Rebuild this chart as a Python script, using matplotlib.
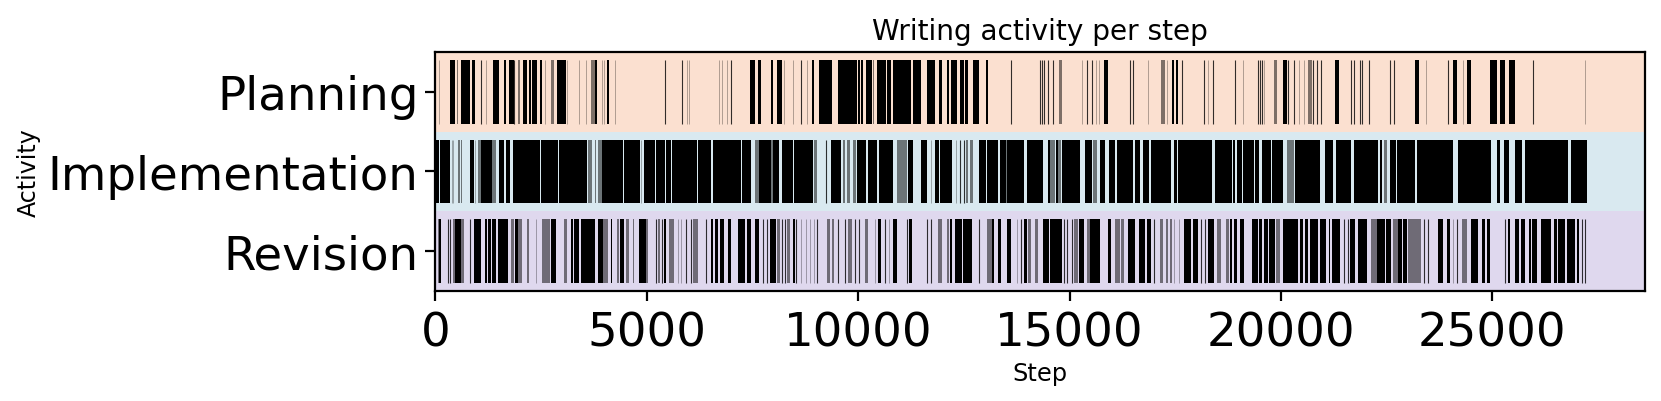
import matplotlib
matplotlib.use("Agg")
import matplotlib.pyplot as plt

activities = ["Planning", "Implementation", "Revision"]
band_colors = ["#fbe0d0", "#d9e9f0", "#dfd8ee"]

# bursts of steps that read as solid black, (first step, last step)
planning_runs = [(339, 473), (607, 828), (859, 930), (1372, 1506), (1632, 1671), (1750, 1853), (2073, 2160),
                 (2223, 2263), (2294, 2405), (2468, 2523), (2870, 3091), (3784, 3832), (4060, 4100), (7450, 7561),
                 (7640, 7695), (7931, 7979), (8089, 8199), (8917, 8956), (9083, 9374), (9532, 9981), (10005, 10044),
                 (10068, 10123), (10178, 10320), (10438, 10651), (10691, 10770), (10833, 11250), (11290, 11487),
                 (11621, 11818), (11920, 11976), (12102, 12149), (12197, 12346), (12417, 12504), (12536, 12607),
                 (12709, 12859), (13016, 13064), (15815, 15902), (17416, 17471), (17518, 17566), (20057, 20136),
                 (21287, 21381), (23179, 23266), (24077, 24172), (24409, 24488), (24945, 25111), (25189, 25292),
                 (25386, 25544)]
planning_grey = [(505, 536), (1963, 2003), (2744, 2807), (3682, 3784), (10360, 10383), (14743, 14814),
                 (17155, 17258), (19844, 19915), (20648, 20727)]
planning_marks = [1072, 1868, 5432, 5842, 7001, 8649, 13624, 14309, 14349, 14396, 14491, 14617, 15421, 15524,
                  16438, 16509, 17668, 18173, 18385, 18906, 19458, 19505, 19560, 20175, 20317, 20767, 20861,
                  20948, 21649, 21736, 21862, 21925, 22075, 22588, 22674, 23959, 25970]
planning_faint = [95, 1206, 2586, 3122, 3406, 3571, 3950, 3989, 4257, 5945, 5992, 6717, 6780, 6906, 8247, 8467,
                  8783, 15287, 15634, 15689, 16864, 17313, 18283, 19095, 19608, 20420, 20538, 23439, 24314, 27200]

implementation_runs = [(0, 95), (118, 347), (828, 915), (1072, 1332), (1514, 1616), (1679, 1758), (1829, 2090),
                       (2105, 2476), (2490, 2909), (2920, 3595), (3934, 4431), (4462, 4841), (4935, 5188),
                       (5219, 5432), (5464, 5566), (5598, 6181), (6213, 6520), (6559, 7222), (7253, 7458),
                       (7663, 7931), (7979, 8136), (8199, 8452), (8483, 8925), (9366, 9587), (9981, 10186),
                       (10233, 10454), (10494, 10833), (11187, 11298), (11487, 11621), (11826, 11920),
                       (11936, 12212), (12851, 13024), (13056, 13308), (13363, 13497), (13529, 13923),
                       (14002, 14380), (14491, 14538), (14672, 14719), (14830, 15247), (15358, 15531),
                       (15721, 15831), (15926, 16083), (16115, 16509), (16556, 16667), (16730, 16872),
                       (16919, 17408), (17479, 17534), (17573, 18362), (18441, 18851), (18874, 18922),
                       (18953, 19079), (19111, 19371), (19395, 19473), (19560, 19765), (19789, 20049),
                       (20332, 20924), (21042, 21239), (21303, 21649), (21728, 22304), (22351, 22390),
                       (22580, 22721), (22753, 23171), (23210, 24077), (24180, 24961), (25102, 25181),
                       (25284, 25402), (25544, 25702), (25773, 26798), (26853, 27231)]
implementation_grey = [(544, 583), (599, 631), (1017, 1072), (1332, 1435), (3611, 3705), (3776, 3800),
                       (3855, 3934), (7569, 7663), (7931, 7979), (8956, 9019), (9634, 9697), (9745, 9808),
                       (9871, 9950), (10919, 11164), (12543, 12607), (12646, 12717), (13497, 13529),
                       (14538, 14656), (14735, 14790), (15563, 15658), (20136, 20309), (22438, 22501)]
implementation_marks = [9232, 12402, 12504]
implementation_faint = [394, 410, 938, 4872, 11716, 12315]

revision_runs = [(87, 134), (465, 607), (907, 1080), (1175, 1214), (1254, 1317), (1348, 1435), (1490, 1711),
                 (1884, 1963), (2728, 2854), (3209, 3256), (3288, 3398), (3445, 3776), (3839, 3973), (4147, 4186),
                 (4368, 4455), (4817, 4975), (5416, 5464), (6512, 6575), (6615, 6694), (6733, 6835), (6914, 6993),
                 (7167, 7324), (7372, 7466), (7561, 7647), (7915, 8050), (8467, 8507), (10478, 10533),
                 (10833, 10911), (11203, 11282), (12173, 12228), (12291, 12449), (12488, 12701), (13158, 13221),
                 (13316, 13379), (13513, 13608), (13923, 14002), (14380, 14514), (14530, 14830), (15232, 15350),
                 (15484, 15721), (15918, 15973), (16391, 16548), (16643, 16785), (16832, 16919), (17715, 17873),
                 (17928, 18046), (18267, 18425), (18787, 18851), (18898, 18953), (19040, 19119), (19323, 19450),
                 (19481, 19544), (19592, 19686), (19718, 19859), (20057, 20412), (20451, 20514), (20569, 20648),
                 (20687, 20869), (20924, 21058), (21137, 21168), (21216, 21397), (21626, 21752), (21831, 22028),
                 (22280, 22461), (22477, 22595), (22777, 22856), (22887, 22982), (23723, 23825), (23936, 23999),
                 (24495, 24653), (24748, 24827), (24866, 24953), (25363, 25418), (25544, 25639), (25678, 25773),
                 (25860, 25907), (25946, 26049), (26151, 26380), (26467, 26522), (26546, 26719), (26774, 26955),
                 (26995, 27049)]
revision_grey = [(55, 87), (426, 465), (607, 670), (1790, 1853), (1963, 2042), (2176, 2215), (2515, 2712),
                 (3051, 3122), (3973, 4076), (4289, 4344), (4510, 4581), (4667, 4707), (4975, 5038), (5274, 5322),
                 (5527, 5653), (6102, 6220), (8073, 8144), (8310, 8388), (9256, 9335), (9390, 9437), (9768, 9863),
                 (10162, 10225), (11897, 11991), (12094, 12149), (13056, 13158), (14026, 14089), (14183, 14246),
                 (15098, 15193), (15405, 15484), (16075, 16201), (16217, 16296), (17148, 17218), (17282, 17337),
                 (17376, 17431), (18480, 18575), (18701, 18772), (19875, 19978), (22123, 22280), (22658, 22777),
                 (22998, 23313), (24275, 24393)]
revision_marks = [292, 339, 828, 5211, 5361, 5929, 6039, 6394, 7758, 7852, 8207, 8262, 8530, 9035, 9532, 9697,
                  9926, 10013, 10635, 11148, 11629, 11731, 12867, 13860, 14869, 14948, 15050, 17006, 18101,
                  18196, 21492, 21578, 23391, 23486, 24164, 25300, 27113, 27200]
revision_faint = [2373, 5732, 5811, 8657, 8759, 8862, 8948, 10399, 10722, 13765, 17479, 17589, 24070]

all_runs = [planning_runs, implementation_runs, revision_runs]
all_grey = [planning_grey, implementation_grey, revision_grey]
all_marks = [planning_marks, implementation_marks, revision_marks]
all_faint = [planning_faint, implementation_faint, revision_faint]


def spans(pairs):
    return [(a, b - a) for a, b in pairs]


fig = plt.figure(figsize=(8.305, 2.01), dpi=200)
ax = fig.add_axes([435.3 / 1661, 1 - 292 / 402, (1644.7 - 435.3) / 1661, (292 - 52.8) / 402])

for i in range(len(activities)):
    ax.axhspan(i - 0.5, i + 0.5, color=band_colors[i], lw=0, zorder=0)
    ax.broken_barh(spans(all_runs[i]), (i - 0.4, 0.8), color="black", lw=0, zorder=2)
    ax.broken_barh(spans(all_grey[i]), (i - 0.4, 0.8), color="black", alpha=0.5, lw=0, zorder=2)
    ax.vlines(all_marks[i], i - 0.4, i + 0.4, color="black", lw=0.4, alpha=0.8, zorder=2)
    ax.vlines(all_faint[i], i - 0.4, i + 0.4, color="black", lw=0.3, alpha=0.35, zorder=2)

ax.set_xlim(0, 28604)
ax.set_ylim(2.5, -0.5)
ax.set_yticks(range(len(activities)))
ax.set_yticklabels(activities)
ax.tick_params(axis="both", labelsize=16.8)
ax.tick_params(axis="y", pad=2.5)
ax.set_title("Writing activity per step", fontsize=10.1, pad=4.5)
ax.set_xlabel("Step", fontsize=8.7, labelpad=2)
ax.set_ylabel("Activity", fontsize=8.5, labelpad=2.5)

plt.savefig("out.png", dpi=200)
